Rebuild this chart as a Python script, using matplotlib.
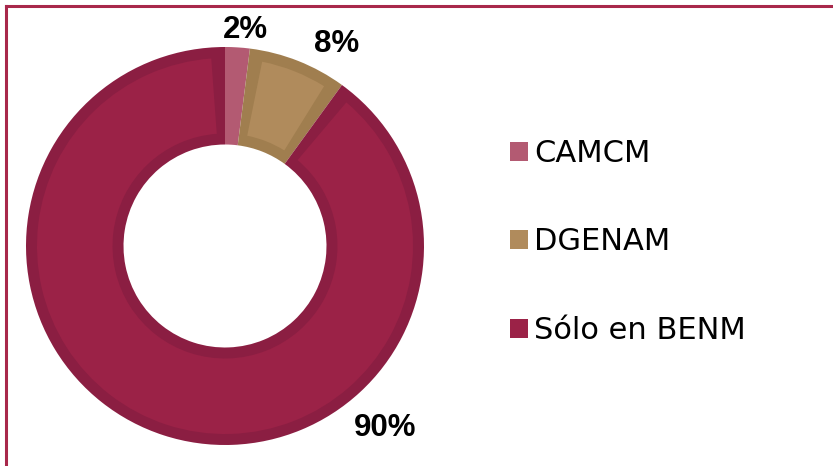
import matplotlib.pyplot as plt
from matplotlib.patches import Patch, Wedge
import numpy as np

# data
labels = ["CAMCM", "DGENAM", "Sólo en BENM"]
values = [2, 8, 90]

# style
fills = ["#b35a72", "#b08b5c", "#9b2247"]
edges = ["#ac566d", "#a07e4f", "#8b1e42"]
# where the % labels sit (angle in deg, radius in units of outer radius)
lab_pos = [(84.7, 1.09), (61.0, 1.16), (-48.7, 1.22)]

W, H = 833, 466
fig = plt.figure(figsize=(W / 100, H / 100), dpi=100)

cx, cy, R = 225, 466 - 246, 199
ax = fig.add_axes([(cx - R) / W, (cy - R) / H, 2 * R / W, 2 * R / H])

ring = 0.49
band = 11 / R  # darker inner border of each slice
wedges, _ = ax.pie(values, colors=edges, startangle=90, counterclock=False,
                   radius=1.0, wedgeprops=dict(width=ring, linewidth=0))
for w, fc in zip(wedges, fills):
    r_mid = 1 - ring / 2
    dth = np.rad2deg(band / r_mid)
    t1, t2 = w.theta1 + dth, w.theta2 - dth
    if t2 - t1 <= 0:
        w.set_facecolor(fc)
        continue
    ax.add_patch(Wedge((0, 0), 1 - band, t1, t2, width=ring - 2 * band,
                       facecolor=fc, edgecolor="none"))
ax.set_xlim(-1, 1)
ax.set_ylim(-1, 1)
ax.set_aspect("equal")
ax.axis("off")

for v, (ang, r) in zip(values, lab_pos):
    a = np.deg2rad(ang)
    ax.text(r * np.cos(a), r * np.sin(a), f"{v}%", ha="center", va="center",
            fontsize=22.5, fontweight="bold", family="Liberation Sans",
            color="black", clip_on=False)

handles = [Patch(facecolor=c, edgecolor="none") for c in fills]
fig.legend(handles, labels, loc="center left", bbox_to_anchor=(498 / W, (466 - 242) / H),
           frameon=False, prop=dict(family="DejaVu Sans", size=22),
           handlelength=0.58, handleheight=0.58, handletextpad=0.2,
           labelspacing=1.95, borderaxespad=0)

# partial frame (top and left edges only)
fig.add_artist(plt.Line2D([6 / W, 6 / W], [0, (H - 6) / H], color="#a8284b", lw=2.2))
fig.add_artist(plt.Line2D([6 / W, 1], [(H - 6) / H, (H - 6) / H], color="#a8284b", lw=2.2))

fig.savefig("out.png", dpi=100, facecolor="white")
